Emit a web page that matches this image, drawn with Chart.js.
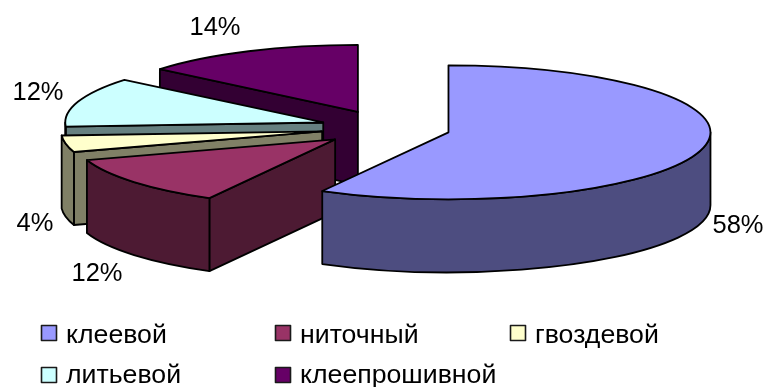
<!DOCTYPE html>
<html>
<head>
<meta charset="utf-8">
<style>html,body{margin:0;background:#fff}canvas{display:block}</style>
<script src="https://cdn.jsdelivr.net/npm/chart.js@4"></script>
</head>
<body>
<canvas id="chart" width="765" height="387"></canvas>
<script>
// Shoe sole attachment methods, share of output in percent
const categories = ['клеевой', 'ниточный', 'гвоздевой', 'литьевой', 'клеепрошивной'];
const shares = [58, 12, 4, 12, 14];
const topColors = ['#9999FF', '#993366', '#FFFFCC', '#CCFFFF', '#660066'];
const wallColors = ['#4D4D80', '#4D1A33', '#808066', '#668080', '#330033'];

// Projection of the pie into its tilted 3D view
const view = { ry: 67, depth: 73, explodeTilt: 0.27, line: 1.8 };
const radiusX = [262, 261, 261, 258, 257];
const explodeBy = [64.5, 66, 65, 66, 66];
const valueFont = '25.5px "Liberation Sans", Arial, sans-serif';
const legendFont = '26.7px "Liberation Sans", Arial, sans-serif';
const valueLabelAnchors = [[738, 233], [97, 281], [35, 231], [38, 100], [215, 35]];
const legendGrid = { xs: [41.5, 275.5, 510.5], boxYs: [325.5, 367.5], baselines: [343, 383], box: 15, textOffset: 25 };

function facePath(ctx, a) {
  ctx.beginPath();
  ctx.moveTo(a.cx, a.cy);
  ctx.ellipse(a.cx, a.cy, a.rx, view.ry, 0, a.start, a.end);
  ctx.closePath();
}

function edgeWall(ctx, a, angle, color) {
  const x = a.cx + Math.cos(angle) * a.rx;
  const y = a.cy + Math.sin(angle) * view.ry;
  ctx.beginPath();
  ctx.moveTo(a.cx, a.cy);
  ctx.lineTo(x, y);
  ctx.lineTo(x, y + view.depth);
  ctx.lineTo(a.cx, a.cy + view.depth);
  ctx.closePath();
  ctx.fillStyle = color;
  ctx.fill();
  ctx.stroke();
}

function rimWall(ctx, a, color) {
  const lo = Math.max(a.start, 0);
  const hi = Math.min(a.end, Math.PI);
  if (hi <= lo) return;
  ctx.beginPath();
  ctx.ellipse(a.cx, a.cy, a.rx, view.ry, 0, lo, hi);
  ctx.ellipse(a.cx, a.cy + view.depth, a.rx, view.ry, 0, hi, lo, true);
  ctx.closePath();
  ctx.fillStyle = color;
  ctx.fill();
  ctx.stroke();
}

// Paints each arc element of the pie as an extruded, pulled-out wedge
const tiltedPie = {
  id: 'tiltedPie',
  beforeDatasetDraw(chart, args) {
    const ctx = chart.ctx;
    const arcs = chart.getDatasetMeta(args.index).data;
    ctx.lineWidth = view.line;
    ctx.strokeStyle = '#000';
    ctx.lineJoin = 'round';
    // back slices first, so nearer slices cover them
    for (let i = arcs.length - 1; i >= 0; i--) {
      const el = arcs[i];
      const mid = (el.startAngle + el.endAngle) / 2;
      const a = {
        start: el.startAngle,
        end: el.endAngle,
        rx: radiusX[i],
        cx: el.x + Math.cos(mid) * explodeBy[i],
        cy: el.y + Math.sin(mid) * explodeBy[i] * view.explodeTilt
      };
      if (Math.cos(a.start) < -1e-6) edgeWall(ctx, a, a.start, wallColors[i]);
      if (Math.cos(a.end) > 1e-6) edgeWall(ctx, a, a.end, wallColors[i]);
      rimWall(ctx, a, wallColors[i]);

      // the top face is the arc element itself, squashed onto the ellipse
      ctx.save();
      ctx.translate(a.cx, a.cy);
      ctx.scale(a.rx / el.outerRadius, view.ry / el.outerRadius);
      ctx.translate(-el.x, -el.y);
      el.draw(ctx);
      ctx.restore();
      facePath(ctx, a);
      ctx.stroke();
    }
    return false;
  },
  afterDraw(chart) {
    const ctx = chart.ctx;
    ctx.save();
    ctx.font = valueFont;
    ctx.fillStyle = '#000';
    ctx.textBaseline = 'alphabetic';
    ctx.textAlign = 'center';
    shares.forEach((v, i) => {
      ctx.fillText(v + '%', valueLabelAnchors[i][0], valueLabelAnchors[i][1]);
    });
    ctx.textAlign = 'left';
    ctx.font = legendFont;
    ctx.lineWidth = 1.6;
    ctx.strokeStyle = '#1a1a1a';
    categories.forEach((name, i) => {
      const row = Math.floor(i / 3);
      const x = legendGrid.xs[i % 3];
      const b = legendGrid.box;
      ctx.fillStyle = topColors[i];
      ctx.fillRect(x, legendGrid.boxYs[row], b, b);
      ctx.strokeRect(x, legendGrid.boxYs[row], b, b);
      ctx.fillStyle = '#000';
      ctx.fillText(name, x - 0.5 + legendGrid.textOffset, legendGrid.baselines[row]);
    });
    ctx.restore();
  }
};

new Chart(document.getElementById('chart'), {
  type: 'pie',
  data: {
    labels: categories,
    datasets: [{ data: shares, backgroundColor: topColors, borderWidth: 0 }]
  },
  options: {
    responsive: false,
    animation: false,
    layout: { padding: { left: 7, right: 0, top: 0, bottom: 131 } },
    plugins: { legend: { display: false }, tooltip: { enabled: false } }
  },
  plugins: [tiltedPie]
});
</script>
</body>
</html>
